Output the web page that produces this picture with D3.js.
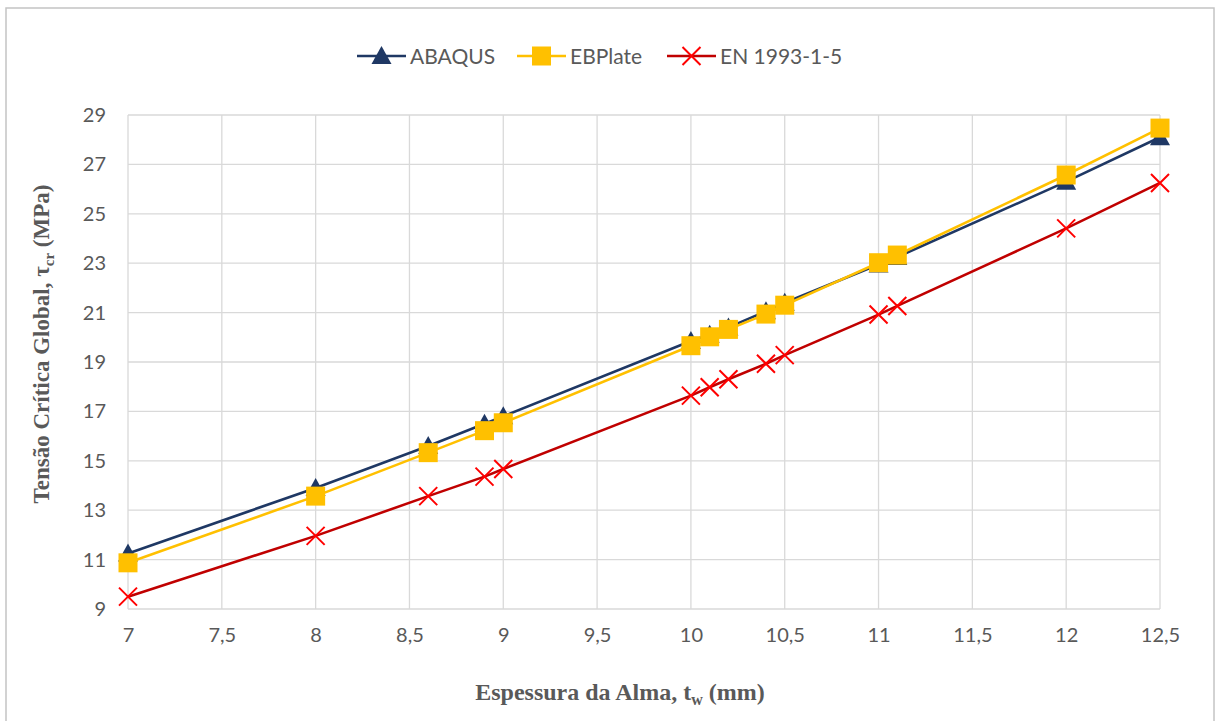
<!DOCTYPE html>
<html lang="pt">
<head>
<meta charset="utf-8">
<title>Tensão Crítica Global</title>
<script src="https://cdn.jsdelivr.net/npm/d3@7"></script>
<style>
  body { margin: 0; background: #fff; }
  svg text { font-family: Lato, "Open Sans", sans-serif; fill: #595959; }
  .gridline { stroke: #d9d9d9; stroke-width: 1.3; }
</style>
</head>
<body>
<svg width="1215" height="721"></svg>
<script>
// espessura da alma (mm)
var thickness = [7, 8, 8.6, 8.9, 9, 10, 10.1, 10.2, 10.4, 10.5, 11, 11.1, 12, 12.5];
var abaqus  = [11.25, 13.9, 15.6, 16.5, 16.8, 19.85, 20.1, 20.4, 21.05, 21.4, 22.95, 23.25, 26.3, 28.1];
var ebplate = [10.87, 13.57, 15.33, 16.22, 16.54, 19.66, 20.02, 20.32, 20.94, 21.3, 23.02, 23.33, 26.57, 28.47];
var en1993  = [9.5, 11.96, 13.57, 14.36, 14.67, 17.64, 17.98, 18.3, 18.93, 19.28, 20.92, 21.27, 24.41, 26.25];
var xTicks = [7, 7.5, 8, 8.5, 9, 9.5, 10, 10.5, 11, 11.5, 12, 12.5];
var yTicks = [9, 11, 13, 15, 17, 19, 21, 23, 25, 27, 29];
var seriesNames = ["ABAQUS", "EBPlate", "EN 1993-1-5"];

var svg = d3.select("svg");

// chart border
svg.append("rect")
   .attr("x", 6).attr("y", 8)
   .attr("width", 1208).attr("height", 720)
   .attr("fill", "none").attr("stroke", "#c4c4c4").attr("stroke-width", 1.5);

var x = d3.scaleLinear().domain([7, 12.5]).range([128, 1160]);
var y = d3.scaleLinear().domain([9, 29]).range([609, 115]);

var fmt = function(d) { return String(d).replace(".", ","); };

// gridlines
svg.append("g").selectAll("line").data(yTicks).enter().append("line")
   .attr("class", "gridline")
   .attr("x1", x(7)).attr("x2", x(12.5))
   .attr("y1", function(d) { return y(d); }).attr("y2", function(d) { return y(d); });
svg.append("g").selectAll("line").data(xTicks).enter().append("line")
   .attr("class", "gridline")
   .attr("y1", y(9)).attr("y2", y(29))
   .attr("x1", function(d) { return x(d); }).attr("x2", function(d) { return x(d); });

// axes (labels only)
var yAxis = svg.append("g")
   .attr("transform", "translate(" + x(7) + ",0)")
   .call(d3.axisLeft(y).tickValues(yTicks).tickSize(0).tickPadding(22).tickFormat(fmt));
var xAxis = svg.append("g")
   .attr("transform", "translate(0," + y(9) + ")")
   .call(d3.axisBottom(x).tickValues(xTicks).tickSize(0).tickPadding(19).tickFormat(fmt));
[yAxis, xAxis].forEach(function(a) {
  a.select(".domain").remove();
  a.selectAll("text").style("font-size", "20px").style("font-family", "Lato, sans-serif").attr("fill", "#595959");
});

// series
var colors = { ABAQUS: "#1f3864", EBPlate: "#ffc000", "EN 1993-1-5": "#c00000" };
var data = [abaqus, ebplate, en1993];

function drawMarker(g, name, cx, cy) {
  if (name === "ABAQUS") {
    g.append("path")
     .attr("d", "M" + cx + "," + (cy - 10) + "L" + (cx + 10) + "," + (cy + 8) + "L" + (cx - 10) + "," + (cy + 8) + "Z")
     .attr("fill", "#1f3864");
  } else if (name === "EBPlate") {
    g.append("rect")
     .attr("x", cx - 9.5).attr("y", cy - 9.5)
     .attr("width", 19).attr("height", 19)
     .attr("fill", "#ffc000");
  } else {
    g.append("path")
     .attr("d", "M" + (cx - 9) + "," + (cy - 9) + "L" + (cx + 9) + "," + (cy + 9) +
                "M" + (cx + 9) + "," + (cy - 9) + "L" + (cx - 9) + "," + (cy + 9))
     .attr("stroke", "#ff0000").attr("stroke-width", 2).attr("fill", "none");
  }
}

var line = d3.line().x(function(d) { return x(d[0]); }).y(function(d) { return y(d[1]); });

seriesNames.forEach(function(name, i) {
  var pts = thickness.map(function(t, j) { return [t, data[i][j]]; });
  var g = svg.append("g");
  g.append("path")
   .datum(pts)
   .attr("d", line)
   .attr("fill", "none")
   .attr("stroke", colors[name])
   .attr("stroke-width", 2.6);
  pts.forEach(function(p) { drawMarker(g, name, x(p[0]), y(p[1])); });
});

// legend
var legendX = [357, 517, 667];
seriesNames.forEach(function(name, i) {
  var g = svg.append("g");
  g.append("line")
   .attr("x1", legendX[i]).attr("x2", legendX[i] + 49)
   .attr("y1", 56).attr("y2", 56)
   .attr("stroke", colors[name]).attr("stroke-width", 2.6);
  drawMarker(g, name, legendX[i] + 24.5, 56);
  g.append("text")
   .attr("x", legendX[i] + 53).attr("y", 63.5)
   .style("font-size", "21px")
   .text(name);
});

// axis titles
var yTitle = svg.append("text")
   .attr("transform", "translate(49,344) rotate(-90)")
   .attr("text-anchor", "middle")
   .style("font-family", "'Liberation Serif', serif")
   .style("font-weight", "bold")
   .style("font-size", "23px");
yTitle.append("tspan").text("Tensão Crítica Global, τ");
yTitle.append("tspan").attr("dy", 5).style("font-size", "15px").text("cr");
yTitle.append("tspan").attr("dy", -5).text(" (MPa)");

var xTitle = svg.append("text")
   .attr("x", 620).attr("y", 700)
   .attr("text-anchor", "middle")
   .style("font-family", "'Liberation Serif', serif")
   .style("font-weight", "bold")
   .style("font-size", "24px");
xTitle.append("tspan").text("Espessura da Alma, t");
xTitle.append("tspan").attr("dy", 5).style("font-size", "16px").text("w");
xTitle.append("tspan").attr("dy", -5).text(" (mm)");
</script>
</body>
</html>
